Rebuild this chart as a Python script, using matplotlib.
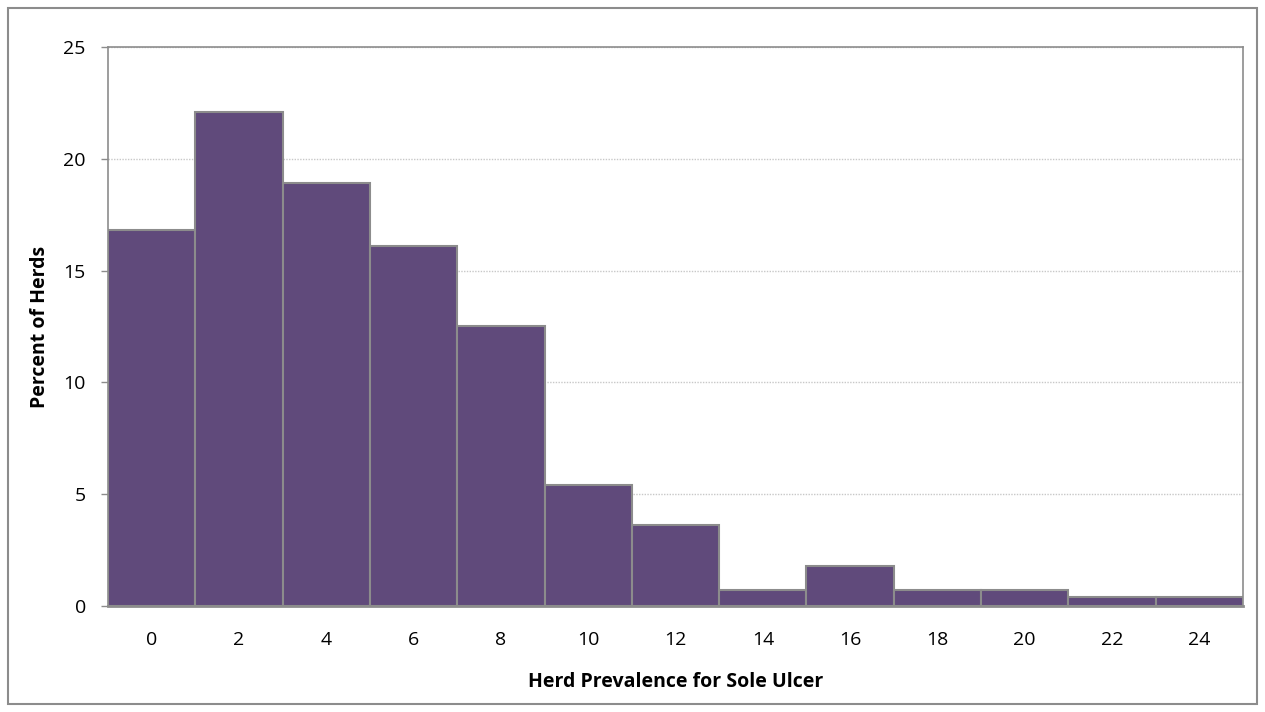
import matplotlib.pyplot as plt
from matplotlib.patches import Rectangle

# herd prevalence bins (%) and share of herds in each bin
prevalence = [0, 2, 4, 6, 8, 10, 12, 14, 16, 18, 20, 22, 24]
percent_herds = [16.8, 22.1, 18.9, 16.1, 12.5, 5.4, 3.6, 0.7, 1.8, 0.7, 0.7, 0.4, 0.4]
y_ticks = [0, 5, 10, 15, 20, 25]

plt.rcParams['font.family'] = ['Open Sans', 'DejaVu Sans']

fig = plt.figure(figsize=(12.65, 7.12), dpi=100)
ax = fig.add_axes([0.0854, 0.149, 0.8972, 0.785])

ax.bar(prevalence, percent_herds, width=2, color='#604A7B',
       edgecolor='#8C8C8C', linewidth=1.5, zorder=3)

ax.set_xlim(-1, 25)
ax.set_ylim(0, 25)
ax.set_xticks(prevalence)
ax.set_yticks(y_ticks)
ax.tick_params(axis='x', length=0, pad=18, labelsize=14)
ax.tick_params(axis='y', length=5, width=1, color='#8C8C8C', pad=11, labelsize=14)

ax.grid(axis='y', color='#C8C8C8', linewidth=1, linestyle=(0, (1, 1)), zorder=0)
for s in ax.spines.values():
    s.set_color('#8C8C8C')
    s.set_linewidth(1.2)
ax.spines['bottom'].set_linewidth(2)

ax.set_ylabel('Percent of Herds', fontsize=14, fontweight='bold')
ax.set_xlabel('Herd Prevalence for Sole Ulcer', fontsize=14, fontweight='bold')
ax.yaxis.set_label_coords(-0.0599, 0.5)
ax.xaxis.set_label_coords(0.5, -0.136)
ax.xaxis.label.set_va('center')
ax.yaxis.label.set_va('center')

# chart border
fig.patches.append(Rectangle((0.0063, 0.0112), 0.9874, 0.9775, transform=fig.transFigure,
                             fill=False, edgecolor='#8C8C8C', linewidth=1.5))

fig.savefig('out.png', dpi=100)
